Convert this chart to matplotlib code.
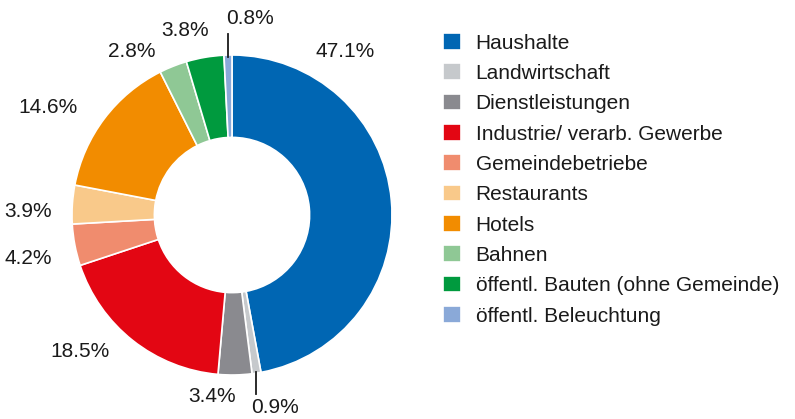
import matplotlib
matplotlib.use("Agg")
import matplotlib.pyplot as plt
import numpy as np

plt.rcParams['font.family'] = ['Liberation Sans', 'DejaVu Sans']

categories = ['Haushalte', 'Landwirtschaft', 'Dienstleistungen',
              'Industrie/ verarb. Gewerbe', 'Gemeindebetriebe', 'Restaurants',
              'Hotels', 'Bahnen', 'öffentl. Bauten (ohne Gemeinde)',
              'öffentl. Beleuchtung']
shares = [47.1, 0.9, 3.4, 18.5, 4.2, 3.9, 14.6, 2.8, 3.8, 0.8]
colors = ['#0066b3', '#c6c9cc', '#8a8a8f', '#e30613', '#f08c6e',
          '#f9c98a', '#f28c00', '#8fc895', '#009a3e', '#8aa9d8']

# label placement (pie units) and which slices get a leader line
label_pos = [(0.706, 1.019), (0.269, -1.206), (-0.125, -1.1375),
             (-0.95, -0.856), (-1.275, -0.275), (-1.275, 0.025),
             (-1.15, 0.669), (-0.625, 1.019), (-0.294, 1.156),
             (0.1125, 1.231)]
leader = [False, True, False, False, False, False, False, False, False, True]

W, H = 795, 419
fig = plt.figure(figsize=(W / 100, H / 100), dpi=100)
cx, cy, R = 232, 215, 160
ax = fig.add_axes([(cx - R) / W, (H - cy - R) / H, 2 * R / W, 2 * R / H])

wedges, _ = ax.pie(shares, colors=colors, startangle=90, counterclock=False,
                   radius=1.0,
                   wedgeprops=dict(width=0.515, edgecolor='white', linewidth=1.2))
ax.set_xlim(-1, 1)
ax.set_ylim(-1, 1)
ax.set_aspect('equal')
ax.axis('off')

for w, s, (lx, ly), ld in zip(wedges, shares, label_pos, leader):
    ax.text(lx, ly, f'{s:.1f}%', ha='center', va='center', fontsize=15,
            color='#1a1a1a', clip_on=False)
    if ld:
        # vertical leader from the slice's outer edge toward its label
        ang = np.deg2rad((w.theta1 + w.theta2) / 2)
        x0, y0 = 0.99 * np.cos(ang), 0.99 * np.sin(ang)
        y1 = y0 + np.sign(y0) * 0.14
        ax.plot([x0, x0], [y0, y1], color='#1a1a1a', lw=1.3, clip_on=False)

fig.legend(wedges, categories, loc='upper left',
           bbox_to_anchor=(443 / W, 1 - 33 / H), frameon=False,
           fontsize=15, handlelength=0.85, handleheight=0.85,
           handletextpad=0.72, labelspacing=0.52, borderpad=0,
           borderaxespad=0, labelcolor='#1a1a1a')

fig.savefig('out.png', dpi=100)
